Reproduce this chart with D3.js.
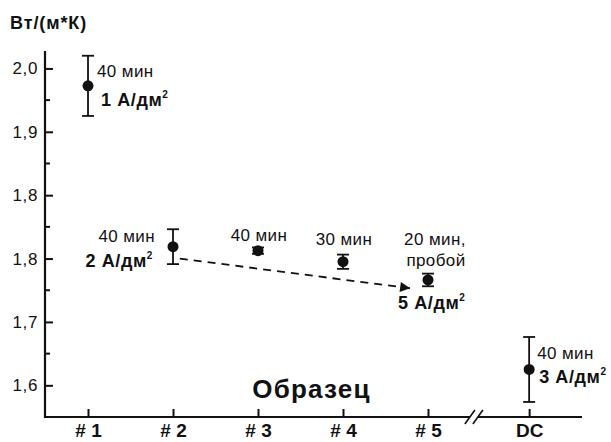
<!DOCTYPE html>
<html>
<head>
<meta charset="utf-8">
<script src="https://cdn.jsdelivr.net/npm/d3@7"></script>
<style>
  body { margin: 0; background: #fff; }
  svg { font-family: "Liberation Sans", Arial, sans-serif; }
</style>
</head>
<body>
<div id="chart"></div>
<script>
// data
var samples = ['# 1', '# 2', '# 3', '# 4', '# 5', 'DC'];
var sampleIdx = [1, 2, 3, 4, 5, 6.19];
var values = [1.978, 1.775, 1.770, 1.756, 1.733, 1.620];
var errors = [0.038, 0.022, 0.004, 0.009, 0.008, 0.041];
var timeLabels = ['40 мин', '40 мин', '40 мин', '30 мин', '20 мин,', '40 мин'];
var currentLabels = ['1 А/дм', '2 А/дм', null, null, '5 А/дм', '3 А/дм'];
var yTickValues = [2.0, 1.92, 1.84, 1.76, 1.68, 1.6];
var yTickLabels = ['2,0', '1,9', '1,8', '1,8', '1,7', '1,6'];
var yMinorTicks = [1.96, 1.88, 1.80, 1.72, 1.64];
// trend arrow from #2 to #5 (index, value)
var arrowFrom = [2.08, 1.760];
var arrowTo = [4.79, 1.7225];

var width = 611, height = 442;
var margin = { top: 51, right: 29, bottom: 25, left: 45 };

var svg = d3.select('#chart').append('svg')
        .attr('width', width)
        .attr('height', height);

var innerW = width - margin.left - margin.right;
var innerH = height - margin.top - margin.bottom;
var g = svg.append('g').attr('transform', 'translate(' + margin.left + ',' + margin.top + ')');

var x = d3.scaleLinear().domain([0.494, 6.812]).range([0, innerW]);
var y = d3.scaleLinear().domain([1.56, 2.022]).range([innerH, 0]);

// y axis
var yAxis = g.append('g')
        .call(d3.axisLeft(y)
                .tickValues(yTickValues)
                .tickFormat(function (d, i) { return yTickLabels[i]; })
                .tickSize(-8)
                .tickPadding(7)
                .tickSizeOuter(0));
yAxis.select('.domain').remove();
yAxis.selectAll('text').attr('font-size', 17).attr('letter-spacing', 0.6).attr('fill', '#111');
yAxis.selectAll('line').attr('stroke', '#111').attr('stroke-width', 2);

g.selectAll('.minor')
        .data(yMinorTicks)
        .enter().append('line')
        .attr('x1', 0).attr('x2', 5)
        .attr('y1', function (d) { return y(d); })
        .attr('y2', function (d) { return y(d); })
        .attr('stroke', '#111').attr('stroke-width', 2);

// x axis
var xAxis = g.append('g')
        .attr('transform', 'translate(0,' + innerH + ')')
        .call(d3.axisBottom(x)
                .tickValues(sampleIdx)
                .tickFormat(function (d, i) { return samples[i]; })
                .tickSize(-8)
                .tickPadding(7)
                .tickSizeOuter(0));
xAxis.select('.domain').remove();
xAxis.selectAll('text').attr('font-size', 19).attr('font-weight', 'bold').attr('fill', '#111');
xAxis.selectAll('line').attr('stroke', '#111').attr('stroke-width', 2);

// axis lines
g.append('line').attr('x1', 0).attr('x2', 0).attr('y1', 0).attr('y2', innerH + 1)
        .attr('stroke', '#111').attr('stroke-width', 2.2);
var brk = x(5.54);
g.append('line').attr('x1', -1).attr('x2', brk - 4).attr('y1', innerH).attr('y2', innerH)
        .attr('stroke', '#111').attr('stroke-width', 2.2);
g.append('line').attr('x1', brk + 4).attr('x2', innerW).attr('y1', innerH).attr('y2', innerH)
        .attr('stroke', '#111').attr('stroke-width', 2.2);
[-4, 4].forEach(function (dx) {
        g.append('line')
                .attr('x1', brk + dx - 5).attr('y1', innerH + 7)
                .attr('x2', brk + dx + 5).attr('y2', innerH - 7)
                .attr('stroke', '#111').attr('stroke-width', 1.6);
});

// axis titles
svg.append('text').attr('x', 10).attr('y', 29)
        .attr('font-size', 18).attr('font-weight', 'bold').attr('letter-spacing', 0.9)
        .attr('fill', '#111').text('Вт/(м*К)');
g.append('text').attr('x', x(3.63)).attr('y', innerH - 19)
        .attr('text-anchor', 'middle')
        .attr('font-size', 26).attr('font-weight', 'bold').attr('letter-spacing', 1.2)
        .attr('fill', '#111').text('Образец');

// arrow
svg.append('defs').append('marker')
        .attr('id', 'arr').attr('viewBox', '0 0 10 10')
        .attr('refX', 10).attr('refY', 5)
        .attr('markerWidth', 16).attr('markerHeight', 10)
        .attr('markerUnits', 'userSpaceOnUse')
        .attr('orient', 'auto')
        .append('path').attr('d', 'M0,0L10,5L0,10Z').attr('fill', '#111');
g.append('line')
        .attr('x1', x(arrowFrom[0])).attr('y1', y(arrowFrom[1]))
        .attr('x2', x(arrowTo[0])).attr('y2', y(arrowTo[1]))
        .attr('stroke', '#111').attr('stroke-width', 1.8)
        .attr('stroke-dasharray', '8,6')
        .attr('marker-end', 'url(#arr)');

// error bars and points
var pts = g.selectAll('.pt').data(values).enter().append('g');
pts.append('line')
        .attr('x1', function (d, i) { return x(sampleIdx[i]); })
        .attr('x2', function (d, i) { return x(sampleIdx[i]); })
        .attr('y1', function (d, i) { return y(d + errors[i]); })
        .attr('y2', function (d, i) { return y(d - errors[i]); })
        .attr('stroke', '#111').attr('stroke-width', 1.8);
[1, -1].forEach(function (s) {
        pts.append('line')
                .attr('x1', function (d, i) { return x(sampleIdx[i]) - 6; })
                .attr('x2', function (d, i) { return x(sampleIdx[i]) + 6; })
                .attr('y1', function (d, i) { return y(d + s * errors[i]); })
                .attr('y2', function (d, i) { return y(d + s * errors[i]); })
                .attr('stroke', '#111').attr('stroke-width', 1.8);
});
pts.append('circle')
        .attr('cx', function (d, i) { return x(sampleIdx[i]); })
        .attr('cy', function (d) { return y(d); })
        .attr('r', 5.5).attr('fill', '#111');

// annotations
var small = 17, big = 18;
function timeText(i, tx, ty, anchor) {
        g.append('text').attr('x', tx).attr('y', ty)
                .attr('text-anchor', anchor).attr('font-size', small)
                .attr('letter-spacing', 0.4).attr('fill', '#111')
                .text(timeLabels[i]);
}
function currText(i, tx, ty, anchor) {
        var t = g.append('text').attr('x', tx).attr('y', ty)
                .attr('text-anchor', anchor).attr('font-size', big)
                .attr('font-weight', 'bold').attr('letter-spacing', 0.6)
                .attr('fill', '#111');
        t.append('tspan').text(currentLabels[i]);
        t.append('tspan').attr('font-size', 10).attr('dy', -8).text('2');
}
var px = function (i) { return x(sampleIdx[i]); };
var py = function (i) { return y(values[i]); };
timeText(0, px(0) + 9, py(0) - 9, 'start');
currText(0, px(0) + 13, py(0) + 20, 'start');
timeText(1, px(1) - 18, py(1) - 5, 'end');
currText(1, px(1) - 20, py(1) + 20, 'end');
timeText(2, px(2) + 1, py(2) - 10, 'middle');
timeText(3, px(3) + 1, py(3) - 17, 'middle');
timeText(4, px(4) + 7, py(4) - 35, 'middle');
g.append('text').attr('x', px(4) + 8).attr('y', py(4) - 14)
        .attr('text-anchor', 'middle').attr('font-size', small)
        .attr('letter-spacing', 0.4).attr('fill', '#111').text('пробой');
currText(4, px(4) - 30, py(4) + 29, 'start');
timeText(5, px(5) + 8, py(5) - 10, 'start');
currText(5, px(5) + 10, py(5) + 14, 'start');
</script>
</body>
</html>
